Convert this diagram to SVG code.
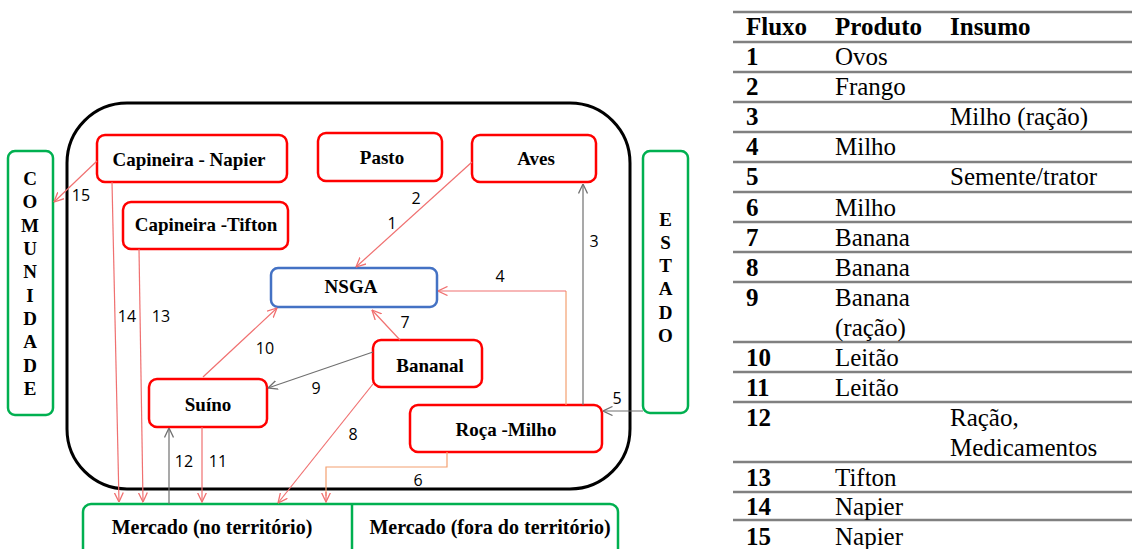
<svg xmlns="http://www.w3.org/2000/svg" width="1132" height="549" viewBox="0 0 1132 549">
  <defs>
    <style>
      .node { fill: #ffffff; stroke: #ff0000; stroke-width: 2.5; }
      .hub { fill: #ffffff; stroke: #4472c4; stroke-width: 2.5; }
      .ext { fill: #ffffff; stroke: #00b050; stroke-width: 2.5; }
      .boundary { fill: none; stroke: #000000; stroke-width: 3; }
      .lbl { font-family: 'Liberation Serif', 'DejaVu Serif', serif; font-weight: bold; font-size: 19px; fill: #000; text-anchor: middle; }
      .mkt { font-size: 20px; }
      .num { font-family: 'Open Sans', 'Liberation Sans', sans-serif; font-size: 16px; fill: #000; text-anchor: middle; }
      .red { fill: none; stroke: #f07070; stroke-width: 1.2; }
      .gray { fill: none; stroke: #707070; stroke-width: 1.2; }
      .orange { fill: none; stroke: #f4a070; stroke-width: 1.2; }
      .rule { stroke: #808080; stroke-width: 2.5; }
      .th { font-family: 'Liberation Serif', 'DejaVu Serif', serif; font-weight: bold; font-size: 25px; fill: #000; }
      .td { font-family: 'Liberation Serif', 'DejaVu Serif', serif; font-size: 25px; fill: #000; }
    </style>
    <marker id="arrRed" viewBox="0 0 10 10" refX="9.5" refY="5" markerWidth="10" markerHeight="10" markerUnits="userSpaceOnUse" orient="auto">
      <path d="M0,0.5 L9.5,5 L0,9.5" fill="none" stroke="#f07070" stroke-width="1.3"/>
    </marker>
    <marker id="arrGray" viewBox="0 0 10 10" refX="9.5" refY="5" markerWidth="10" markerHeight="10" markerUnits="userSpaceOnUse" orient="auto">
      <path d="M0,0.5 L9.5,5 L0,9.5" fill="none" stroke="#707070" stroke-width="1.3"/>
    </marker>
  </defs>

  <rect width="1132" height="549" fill="#ffffff"/>

  <!-- farm boundary -->
  <rect id="propriedade" class="boundary" x="67" y="103" width="563" height="386" rx="60" ry="60"/>

  <!-- external actors -->
  <g id="comunidade">
    <rect class="ext" x="8" y="151" width="45" height="264" rx="7"/>
    <text class="lbl">
      <tspan x="30" y="185">C</tspan><tspan x="30" y="208.3">O</tspan><tspan x="30" y="231.7">M</tspan><tspan x="30" y="255">U</tspan><tspan x="30" y="278.3">N</tspan><tspan x="30" y="301.7">I</tspan><tspan x="30" y="325">D</tspan><tspan x="30" y="348.3">A</tspan><tspan x="30" y="371.7">D</tspan><tspan x="30" y="395">E</tspan>
    </text>
  </g>
  <g id="estado">
    <rect class="ext" x="643" y="151" width="45" height="262" rx="7"/>
    <text class="lbl">
      <tspan x="665.5" y="225.7">E</tspan><tspan x="665.5" y="248.9">S</tspan><tspan x="665.5" y="272.1">T</tspan><tspan x="665.5" y="295.3">A</tspan><tspan x="665.5" y="318.5">D</tspan><tspan x="665.5" y="341.7">O</tspan>
    </text>
  </g>
  <g id="mercado">
    <rect class="ext" x="83" y="504" width="535" height="70" rx="8"/>
    <line x1="352" y1="504" x2="352" y2="560" stroke="#00b050" stroke-width="2.5"/>
    <text class="lbl mkt" x="212" y="534">Mercado (no território)</text>
    <text class="lbl mkt" x="490" y="534">Mercado (fora do território)</text>
  </g>

  <!-- production units -->
  <g id="capineira-napier">
    <rect class="node" x="97" y="135" width="190" height="47" rx="8"/>
    <text class="lbl" x="189" y="166">Capineira - Napier</text>
  </g>
  <g id="capineira-tifton">
    <rect class="node" x="123" y="202" width="165" height="47" rx="8"/>
    <text class="lbl" x="206" y="231">Capineira -Tifton</text>
  </g>
  <g id="pasto">
    <rect class="node" x="318" y="133" width="124" height="48" rx="8"/>
    <text class="lbl" x="382" y="164">Pasto</text>
  </g>
  <g id="aves">
    <rect class="node" x="472" y="135" width="124" height="47" rx="8"/>
    <text class="lbl" x="536" y="165">Aves</text>
  </g>
  <g id="nsga">
    <rect class="hub" x="271" y="268" width="166" height="39" rx="7"/>
    <text class="lbl" x="351" y="293">NSGA</text>
  </g>
  <g id="bananal">
    <rect class="node" x="373" y="340" width="109" height="47" rx="8"/>
    <text class="lbl" x="430" y="372">Bananal</text>
  </g>
  <g id="roca-milho">
    <rect class="node" x="410" y="405" width="192" height="47" rx="8"/>
    <text class="lbl" x="506" y="436">Roça -Milho</text>
  </g>
  <g id="suino">
    <rect class="node" x="149" y="379" width="118" height="48" rx="8"/>
    <text class="lbl" x="208" y="411">Suíno</text>
  </g>

  <!-- flows -->
  <g id="fluxos">
    <line class="red" x1="472" y1="162" x2="356" y2="267" marker-end="url(#arrRed)"/>
    <line class="gray" x1="583" y1="405" x2="583" y2="184" marker-end="url(#arrGray)"/>
    <line class="orange" x1="566" y1="405" x2="566" y2="291"/>
    <path class="red" d="M566,291 H438" marker-end="url(#arrRed)"/>
    <line class="gray" x1="643" y1="411" x2="603" y2="411" marker-end="url(#arrGray)"/>
    <path class="orange" d="M447,452 V467 H326 V496"/>
    <line class="red" x1="326" y1="492" x2="326" y2="502" marker-end="url(#arrRed)"/>
    <line class="red" x1="400" y1="340" x2="372" y2="310" marker-end="url(#arrRed)"/>
    <line class="red" x1="373" y1="384" x2="278" y2="503" marker-end="url(#arrRed)"/>
    <line class="gray" x1="373" y1="352" x2="268" y2="388" marker-end="url(#arrGray)"/>
    <line class="red" x1="203" y1="377" x2="277" y2="308" marker-end="url(#arrRed)"/>
    <line class="red" x1="202" y1="427" x2="202" y2="502" marker-end="url(#arrRed)"/>
    <line class="gray" x1="169" y1="504" x2="169" y2="428" marker-end="url(#arrGray)"/>
    <line class="red" x1="139" y1="249" x2="143" y2="502" marker-end="url(#arrRed)"/>
    <line class="red" x1="112" y1="182" x2="119" y2="502" marker-end="url(#arrRed)"/>
    <line class="red" x1="97" y1="161" x2="54" y2="202" marker-end="url(#arrRed)"/>

    <text class="num" x="392" y="229">1</text>
    <text class="num" x="416" y="204">2</text>
    <text class="num" x="594" y="247">3</text>
    <text class="num" x="500" y="282">4</text>
    <text class="num" x="617" y="404">5</text>
    <text class="num" x="418" y="486">6</text>
    <text class="num" x="405" y="328">7</text>
    <text class="num" x="353" y="440">8</text>
    <text class="num" x="316" y="394">9</text>
    <text class="num" x="265" y="354">10</text>
    <text class="num" x="218" y="467">11</text>
    <text class="num" x="184" y="467">12</text>
    <text class="num" x="161" y="322">13</text>
    <text class="num" x="127" y="322">14</text>
    <text class="num" x="81" y="201">15</text>
  </g>

  <!-- flow legend table -->
  <g id="tabela">
    <g id="regras">
      <line class="rule" x1="733" y1="12" x2="1132" y2="12"/>
      <line class="rule" x1="733" y1="42" x2="1132" y2="42"/>
      <line class="rule" x1="733" y1="72" x2="1132" y2="72"/>
      <line class="rule" x1="733" y1="102" x2="1132" y2="102"/>
      <line class="rule" x1="733" y1="132" x2="1132" y2="132"/>
      <line class="rule" x1="733" y1="162" x2="1132" y2="162"/>
      <line class="rule" x1="733" y1="192" x2="1132" y2="192"/>
      <line class="rule" x1="733" y1="222" x2="1132" y2="222"/>
      <line class="rule" x1="733" y1="252" x2="1132" y2="252"/>
      <line class="rule" x1="733" y1="282" x2="1132" y2="282"/>
      <line class="rule" x1="733" y1="342" x2="1132" y2="342"/>
      <line class="rule" x1="733" y1="372" x2="1132" y2="372"/>
      <line class="rule" x1="733" y1="402" x2="1132" y2="402"/>
      <line class="rule" x1="733" y1="462" x2="1132" y2="462"/>
      <line class="rule" x1="733" y1="492" x2="1132" y2="492"/>
      <line class="rule" x1="733" y1="520" x2="1132" y2="520"/>
    </g>
    <text class="th" x="746" y="35">Fluxo</text>
    <text class="th" x="835" y="35">Produto</text>
    <text class="th" x="950" y="35">Insumo</text>

    <text class="th" x="746" y="65">1</text><text class="td" x="835" y="65">Ovos</text>
    <text class="th" x="746" y="95">2</text><text class="td" x="835" y="95">Frango</text>
    <text class="th" x="746" y="125">3</text><text class="td" x="950" y="125">Milho (ração)</text>
    <text class="th" x="746" y="155">4</text><text class="td" x="835" y="155">Milho</text>
    <text class="th" x="746" y="185">5</text><text class="td" x="950" y="185">Semente/trator</text>
    <text class="th" x="746" y="216">6</text><text class="td" x="835" y="216">Milho</text>
    <text class="th" x="746" y="246">7</text><text class="td" x="835" y="246">Banana</text>
    <text class="th" x="746" y="276">8</text><text class="td" x="835" y="276">Banana</text>
    <text class="th" x="746" y="306">9</text><text class="td" x="835" y="306">Banana</text>
    <text class="td" x="835" y="336">(ração)</text>
    <text class="th" x="746" y="366">10</text><text class="td" x="835" y="366">Leitão</text>
    <text class="th" x="746" y="396">11</text><text class="td" x="835" y="396">Leitão</text>
    <text class="th" x="746" y="426">12</text><text class="td" x="950" y="426">Ração,</text>
    <text class="td" x="950" y="456">Medicamentos</text>
    <text class="th" x="746" y="486">13</text><text class="td" x="835" y="486">Tifton</text>
    <text class="th" x="746" y="515">14</text><text class="td" x="835" y="515">Napier</text>
    <text class="th" x="746" y="545">15</text><text class="td" x="835" y="545">Napier</text>
  </g>
</svg>
